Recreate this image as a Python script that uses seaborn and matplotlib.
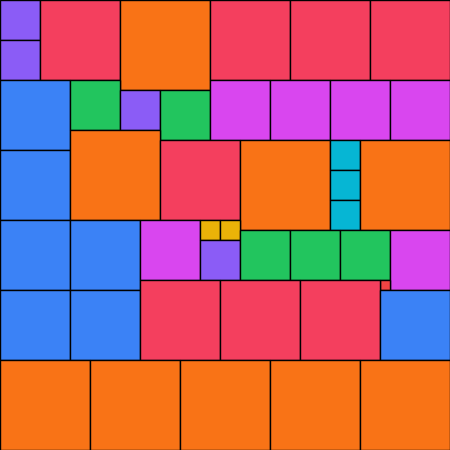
import matplotlib
matplotlib.use("Agg")
import matplotlib.pyplot as plt
from matplotlib.patches import Rectangle
import seaborn as sns
import pandas as pd

# Partridge tiling: squares of side n (n copies each), grid 45x45 units
xs = [0, 0, 4, 12, 21, 29, 37,
      0, 7, 12, 16, 21, 27, 33, 39,
      0, 7, 16, 24, 33, 33, 33, 36,
      0, 7, 14, 20, 22, 20, 24, 29, 34, 39, 38,
      0, 7, 14, 22, 30, 38,
      0, 9, 18, 27, 36]
ys = [0, 4, 0, 0, 0, 0, 0,
      8, 8, 9, 9, 8, 8, 8, 8,
      15, 13, 14, 14, 14, 17, 20, 14,
      22, 22, 22, 22, 22, 24, 23, 23, 23, 23, 28,
      29, 29, 28, 28, 28, 29,
      36, 36, 36, 36, 36]
sizes = [4, 4, 8, 9, 8, 8, 8,
         7, 5, 4, 5, 6, 6, 6, 6,
         7, 9, 8, 9, 3, 3, 3, 9,
         7, 7, 6, 2, 2, 4, 5, 5, 5, 6, 1,
         7, 7, 8, 8, 8, 7,
         9, 9, 9, 9, 9]
size_colors = {1: "#ef4444", 2: "#eab308", 3: "#06b6d4", 4: "#8b5cf6", 5: "#22c55e",
               6: "#d946ef", 7: "#3b82f6", 8: "#f43f5e", 9: "#f97316"}

df = pd.DataFrame({"x": xs, "y": ys, "size": sizes})

sns.set_theme(style="white")
fig = plt.figure(figsize=(4.5, 4.5), dpi=100)
ax = fig.add_axes([0, 0, 1, 1])
for _, r in df.iterrows():
    ax.add_patch(Rectangle((r["x"], r["y"]), r["size"], r["size"],
                           facecolor=size_colors[r["size"]], edgecolor="black",
                           linewidth=1.0))
ax.set_xlim(0, 45)
ax.set_ylim(45, 0)
ax.axis("off")
fig.savefig("out.png", dpi=100)
